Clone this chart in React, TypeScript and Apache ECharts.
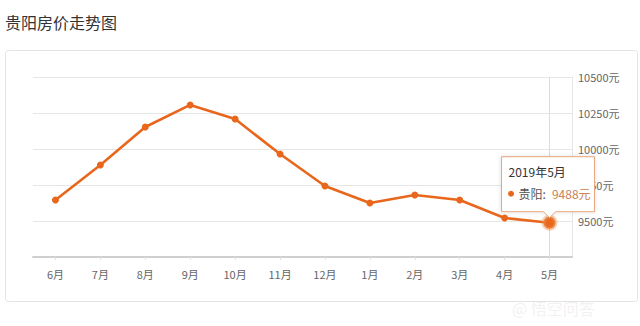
import React, { useEffect, useRef } from "react";
import * as echarts from "echarts";

const title = "贵阳房价走势图";
const months = ["6月", "7月", "8月", "9月", "10月", "11月", "12月", "1月", "2月", "3月", "4月", "5月"];
const prices = [9646, 9889, 10153, 10306, 10208, 9965, 9743, 9625, 9681, 9646, 9521, 9488];
const seriesName = "贵阳";
const tipTitle = "2019年5月";
const yMin = 9250;
const yMax = 10500;
const yStep = 250;
const watermark = "@ 悟空问答";

const FONT = "'Noto Sans CJK SC', 'Noto Sans', sans-serif";
const ORANGE = "#e8671c";

export default function App() {
  const ref = useRef<HTMLDivElement>(null);
  useEffect(() => {
    document.body.style.margin = "0";
    if (!ref.current) return;
    const chart = echarts.init(ref.current, null, { renderer: "svg" });
    const last = prices.length - 1;
    const staticGraphics = [
      {
        type: "text",
        left: 5,
        top: 14,
        style: { text: title, fontSize: 16, fill: "#333", fontFamily: FONT },
      },
      {
        type: "rect",
        shape: { x: 5.5, y: 50.5, width: 632, height: 251, r: 3 },
        style: { fill: "none", stroke: "#e3e3e3", lineWidth: 1 },
        z: -10,
      },
      {
        type: "text",
        x: 512,
        y: 300,
        style: { text: watermark, fontSize: 16, fill: "rgba(225,225,225,0.45)", fontFamily: FONT },
        z: 50,
      },
    ];
    chart.setOption({
      animation: false,
      textStyle: { fontFamily: FONT },
      grid: { left: 33, right: 68, top: 77, bottom: 69 },
      xAxis: {
        type: "category",
        data: months,
        boundaryGap: true,
        axisLine: { lineStyle: { color: "#cfcfcf", width: 2 } },
        axisTick: { show: true, alignWithLabel: true, length: 3, lineStyle: { color: "#e0e0e0" } },
        axisLabel: { color: "#666", fontSize: 11, margin: 11, fontFamily: FONT },
        splitLine: { show: false },
      },
      yAxis: {
        type: "value",
        position: "right",
        min: yMin,
        max: yMax,
        interval: yStep,
        axisLine: { show: true, lineStyle: { color: "#e6e6e6" } },
        axisTick: { show: false },
        axisLabel: {
          color: "#666",
          fontSize: 11,
          margin: 6,
          fontFamily: FONT,
          formatter: (v: number) => (v === yMin ? "" : String(v) + "元"),
        },
        splitLine: { lineStyle: { color: "#e6e6e6" } },
      },
      graphic: staticGraphics,
      series: [
        {
          name: seriesName,
          type: "line",
          z: 2,
          data: prices.map((v, i) =>
            i === last
              ? {
                  value: v,
                  symbolSize: 12,
                  itemStyle: { color: ORANGE, borderColor: "rgba(240,150,90,0.45)", borderWidth: 4 },
                }
              : v
          ),
          symbol: "circle",
          symbolSize: 7,
          showSymbol: true,
          lineStyle: { color: ORANGE, width: 2.6 },
          itemStyle: { color: ORANGE },
          markLine: {
            silent: true,
            symbol: "none",
            label: { show: false },
            z: 1,
            lineStyle: { color: "#dcdcdc", type: "solid", width: 1 },
            data: [{ xAxis: months[last] }],
          },
        },
      ],
    });

    const pt = chart.convertToPixel({ xAxisIndex: 0, yAxisIndex: 0 }, [months[last], prices[last]]) as number[];
    const px = pt[0];
    const py = pt[1];
    const w = 93;
    const h = 55;
    const l = px - 48;
    const r = l + w;
    const b = py - 11;
    const t = b - h;
    const TZ = 100;
    chart.setOption({
      graphic: [
        ...staticGraphics,
        {
          type: "polygon",
          z: TZ,
          shape: {
            points: [
              [l, t],
              [r, t],
              [r, b],
              [px + 6, b],
              [px, b + 6],
              [px - 6, b],
              [l, b],
            ],
          },
          style: {
            fill: "#fff",
            stroke: "#e9a57a",
            lineWidth: 1,
            shadowBlur: 4,
            shadowColor: "rgba(0,0,0,0.12)",
          },
        },
        {
          type: "text",
          z: TZ + 1,
          x: l + 7,
          y: t + 15,
          style: { text: tipTitle, fontSize: 12, fill: "#333", fontFamily: FONT, verticalAlign: "middle" },
        },
        {
          type: "circle",
          z: TZ + 1,
          shape: { cx: l + 9.5, cy: t + 37, r: 3 },
          style: { fill: ORANGE },
        },
        {
          type: "text",
          z: TZ + 1,
          x: l + 17,
          y: t + 37,
          style: { text: seriesName + ":", fontSize: 12, fill: "#555", fontFamily: FONT, verticalAlign: "middle" },
        },
        {
          type: "text",
          z: TZ + 1,
          x: r - 4,
          y: t + 37,
          style: {
            text: prices[last] + "元",
            fontSize: 12,
            fill: "#c9825a",
            fontFamily: FONT,
            verticalAlign: "middle",
            align: "right",
          },
        },
      ],
    });

    return () => chart.dispose();
  }, []);
  return <div ref={ref} style={{ width: 640, height: 326 }} />;
}
